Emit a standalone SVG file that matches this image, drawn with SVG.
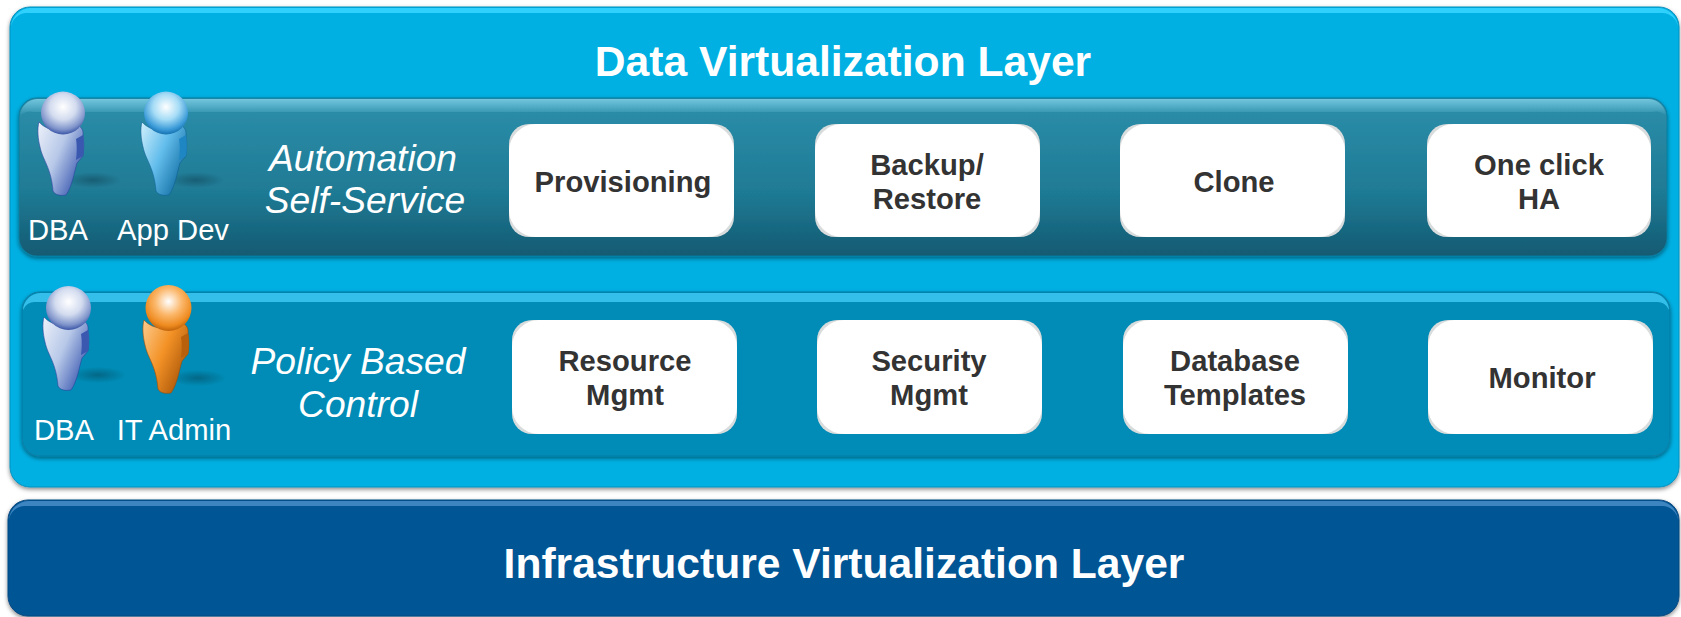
<svg xmlns="http://www.w3.org/2000/svg" width="1681" height="617" viewBox="0 0 1681 617">
<style>
text{font-family:"Liberation Sans",Arial,sans-serif;text-anchor:middle}
.title{font-weight:700;font-size:42.600px;fill:#fff}
.box{fill:#d9dcdd}
.in{fill:#fff}
.lab{font-weight:700;font-size:29.200px;fill:#333}
.role{font-size:29.200px;fill:#fff}
.head{font-style:italic;font-size:37.200px;fill:#fff}
</style>
<defs>
<linearGradient id="gDark" x1="0" y1="0" x2="0" y2="1"><stop offset="0" stop-color="#2c8fab"/><stop offset=".6" stop-color="#1f7a94"/><stop offset="1" stop-color="#135a72"/></linearGradient>
<linearGradient id="gHi" x1="0" y1="0" x2="0" y2="1"><stop offset="0" stop-color="#7fcfe6" stop-opacity=".85"/><stop offset="1" stop-color="#7fcfe6" stop-opacity="0"/></linearGradient>
<radialGradient id="hV" cx=".5" cy=".36" r=".66"><stop offset="0" stop-color="#fff"/><stop offset=".45" stop-color="#d3dcef"/><stop offset=".8" stop-color="#7e93ca"/><stop offset="1" stop-color="#2f4aa0"/></radialGradient>
<radialGradient id="hB" cx=".5" cy=".36" r=".66"><stop offset="0" stop-color="#fff"/><stop offset=".45" stop-color="#a5dcf6"/><stop offset=".8" stop-color="#3b9bd8"/><stop offset="1" stop-color="#0f6aa8"/></radialGradient>
<radialGradient id="hO" cx=".5" cy=".36" r=".66"><stop offset="0" stop-color="#fff"/><stop offset=".45" stop-color="#fbb668"/><stop offset=".8" stop-color="#ee8a1e"/><stop offset="1" stop-color="#b85c08"/></radialGradient>
<linearGradient id="bV" x1="0" y1="0" x2="1" y2=".7"><stop offset="0" stop-color="#eef2fa"/><stop offset=".5" stop-color="#b7c8e8"/><stop offset="1" stop-color="#3a58b0"/></linearGradient>
<linearGradient id="bB" x1="0" y1="0" x2="1" y2=".7"><stop offset="0" stop-color="#d2f0fc"/><stop offset=".5" stop-color="#62bdec"/><stop offset="1" stop-color="#0f6aa0"/></linearGradient>
<linearGradient id="bO" x1="0" y1="0" x2="1" y2=".7"><stop offset="0" stop-color="#fdcb8e"/><stop offset=".5" stop-color="#f39226"/><stop offset="1" stop-color="#a85408"/></linearGradient>
<radialGradient id="sh"><stop offset="0" stop-color="#073040" stop-opacity=".4"/><stop offset="1" stop-color="#073040" stop-opacity="0"/></radialGradient>
<filter id="ds" x="-3%" y="-5%" width="106%" height="112%"><feDropShadow dx="0" dy="2" stdDeviation="2" flood-color="#000" flood-opacity=".45"/></filter>
<path id="bodyP" d="M-24 9C-26 16-25 26-23 34-20 48-12 54-10 78-8 82-3 83 3 82 9 74 11 60 14 50L20 43C21 36 21 28 20 22 21 16 16 11 11 12-2 20-16 18-24 9Z"/>
<path id="bodySide" d="M13 26L20 22C21 30 21 38 20 43L13 47C14 40 14 32 13 26Z"/>
<ellipse id="shP" cx="30" cy="67" rx="28" ry="8"/>
</defs>

<g id="data-layer">
<rect x="10" y="7" width="1669" height="480" rx="20" fill="#00b0e3" stroke="#0a90bd" filter="url(#ds)"/>
<path d="M11 28A20 20 0 0 1 30 8H1659A20 20 0 0 1 1678 28A16 16 0 0 0 1662 13H27A16 16 0 0 0 11 28Z" fill="#2fd0fb"/>
<text class="title" x="843" y="76">Data Virtualization Layer</text>
</g>

<g id="infra-layer">
<rect x="8" y="500" width="1671" height="116" rx="20" fill="#005595" stroke="#0b4a80" filter="url(#ds)"/>
<path d="M9 520A20 20 0 0 1 28 501H1659A20 20 0 0 1 1678 520A16 16 0 0 0 1662 506H25A16 16 0 0 0 9 520Z" fill="#3d85c0"/>
<text class="title" x="844" y="578">Infrastructure Virtualization Layer</text>
</g>

<g id="automation-row">
<rect x="19" y="98" width="1648" height="158" rx="18" fill="url(#gDark)" stroke="#0c7d9f" filter="url(#ds)"/>
<path d="M20 116A18 18 0 0 1 37 99H1649A18 18 0 0 1 1666 116A14 14 0 0 0 1652 112H34A14 14 0 0 0 20 116Z" fill="url(#gHi)"/>
<text class="head" x="363" y="171">Automation</text>
<text class="head" x="365" y="213">Self-Service</text>
</g>

<g id="policy-row">
<rect x="22" y="292" width="1648" height="164" rx="18" fill="#008cb6" stroke="#0c7da5" filter="url(#ds)"/>
<path d="M23 310A18 18 0 0 1 40 293H1652A18 18 0 0 1 1669 310A12 12 0 0 0 1656 302H36A12 12 0 0 0 23 310Z" fill="#33bfe9"/>
<text class="head" x="358" y="374">Policy Based</text>
<text class="head" x="358" y="417">Control</text>
</g>

<g id="dba-1">
<use href="#shP" transform="translate(63 113)" fill="url(#sh)"/>
<use href="#bodyP" transform="translate(63 113)" fill="url(#bV)" stroke="#2a44a0" stroke-width=".6"/>
<use href="#bodySide" transform="translate(63 113)" fill="#3a58b0"/>
<ellipse cx="63" cy="113" rx="22" ry="21.500" fill="url(#hV)"/>
<text class="role" x="58" y="240">DBA</text>
</g>
<g id="app-dev">
<use href="#shP" transform="translate(166 113)" fill="url(#sh)"/>
<use href="#bodyP" transform="translate(166 113)" fill="url(#bB)" stroke="#0f5f94" stroke-width=".6"/>
<use href="#bodySide" transform="translate(166 113)" fill="#1f86c4"/>
<ellipse cx="166" cy="113" rx="22" ry="21.500" fill="url(#hB)"/>
<text class="role" x="173" y="240">App Dev</text>
</g>
<g id="dba-2">
<use href="#shP" transform="translate(68 308)" fill="url(#sh)"/>
<use href="#bodyP" transform="translate(68 308)" fill="url(#bV)" stroke="#2a44a0" stroke-width=".6"/>
<use href="#bodySide" transform="translate(68 308)" fill="#3a58b0"/>
<ellipse cx="68.500" cy="308" rx="22.500" ry="22" fill="url(#hV)"/>
<text class="role" x="64" y="440">DBA</text>
</g>
<g id="it-admin">
<use href="#shP" transform="translate(168 311)" fill="url(#sh)"/>
<use href="#bodyP" transform="translate(168 311)" fill="url(#bO)" stroke="#9c4c06" stroke-width=".6"/>
<use href="#bodySide" transform="translate(168 311)" fill="#b8600c"/>
<ellipse cx="168.500" cy="308" rx="23" ry="23" fill="url(#hO)"/>
<text class="role" x="174" y="440">IT Admin</text>
</g>

<g id="provisioning"><rect class="box" x="509" y="124" width="225" height="113" rx="20"/><rect class="in" x="509" y="124" width="225" height="113" rx="27"/><text class="lab" x="623" y="192">Provisioning</text></g>
<g id="backup"><rect class="box" x="815" y="124" width="225" height="113" rx="20"/><rect class="in" x="815" y="124" width="225" height="113" rx="27"/><text class="lab" x="927" y="175">Backup/</text><text class="lab" x="927" y="209">Restore</text></g>
<g id="clone"><rect class="box" x="1120" y="124" width="225" height="113" rx="20"/><rect class="in" x="1120" y="124" width="225" height="113" rx="27"/><text class="lab" x="1234" y="192">Clone</text></g>
<g id="ha"><rect class="box" x="1427" y="124" width="224" height="113" rx="20"/><rect class="in" x="1427" y="124" width="224" height="113" rx="27"/><text class="lab" x="1539" y="175">One click</text><text class="lab" x="1539" y="209">HA</text></g>

<g id="resource"><rect class="box" x="512" y="320" width="225" height="114" rx="20"/><rect class="in" x="512" y="320" width="225" height="114" rx="27"/><text class="lab" x="625" y="371">Resource</text><text class="lab" x="625" y="405">Mgmt</text></g>
<g id="security"><rect class="box" x="817" y="320" width="225" height="114" rx="20"/><rect class="in" x="817" y="320" width="225" height="114" rx="27"/><text class="lab" x="929" y="371">Security</text><text class="lab" x="929" y="405">Mgmt</text></g>
<g id="templates"><rect class="box" x="1123" y="320" width="225" height="114" rx="20"/><rect class="in" x="1123" y="320" width="225" height="114" rx="27"/><text class="lab" x="1235" y="371">Database</text><text class="lab" x="1235" y="405">Templates</text></g>
<g id="monitor"><rect class="box" x="1428" y="320" width="225" height="114" rx="20"/><rect class="in" x="1428" y="320" width="225" height="114" rx="27"/><text class="lab" x="1542" y="388">Monitor</text></g>

<g id="connectors"/>
</svg>
